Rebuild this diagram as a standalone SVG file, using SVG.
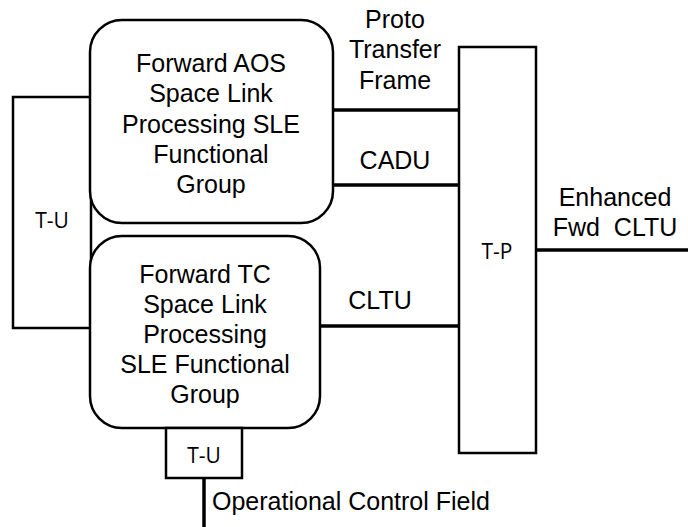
<svg xmlns="http://www.w3.org/2000/svg" width="688" height="527" viewBox="0 0 688 527">
  <style>
    .box { fill: #ffffff; stroke: #000000; stroke-width: 2.5; }
    .wire { fill: none; stroke: #000000; stroke-width: 3.5; }
    .lbl { font-family: "Liberation Sans", Arial, sans-serif; font-size: 25px; fill: #000000; text-anchor: middle; }
    .tag { font-family: "Open Sans", "Liberation Sans", sans-serif; font-size: 21px; fill: #000000; text-anchor: middle; }
  </style>
  <rect width="688" height="527" fill="#ffffff"/>

  <g id="connectors">
    <line class="wire" x1="333" y1="110" x2="459" y2="110"/>
    <line class="wire" x1="333" y1="185" x2="459" y2="185"/>
    <line class="wire" x1="320" y1="326" x2="459" y2="326"/>
    <line class="wire" x1="536" y1="250" x2="688" y2="250"/>
    <line class="wire" x1="204" y1="478" x2="204" y2="527"/>
  </g>

  <g id="tu-left">
    <rect class="box" x="13" y="97" width="78" height="231"/>
    <text class="tag" x="52" y="228">T-U</text>
  </g>

  <g id="aos-group">
    <rect class="box" x="90" y="20" width="243" height="203" rx="32" ry="32"/>
    <text class="lbl" x="211" y="72">Forward AOS</text>
    <text class="lbl" x="211" y="102">Space Link</text>
    <text class="lbl" x="211" y="133">Processing SLE</text>
    <text class="lbl" x="211" y="163">Functional</text>
    <text class="lbl" x="211" y="193">Group</text>
  </g>

  <g id="tc-group">
    <rect class="box" x="90" y="236" width="230" height="192" rx="32" ry="32"/>
    <text class="lbl" x="205" y="283">Forward TC</text>
    <text class="lbl" x="205" y="313">Space Link</text>
    <text class="lbl" x="205" y="343">Processing</text>
    <text class="lbl" x="205" y="373">SLE Functional</text>
    <text class="lbl" x="205" y="403">Group</text>
  </g>

  <g id="tu-bottom">
    <rect class="box" x="166" y="428" width="76" height="50"/>
    <text class="tag" x="204" y="463">T-U</text>
  </g>

  <g id="tp">
    <rect class="box" x="459" y="47" width="77" height="406"/>
    <text class="tag" x="497" y="259">T-P</text>
  </g>

  <g id="labels">
    <text class="lbl" x="395" y="28">Proto</text>
    <text class="lbl" x="395" y="58">Transfer</text>
    <text class="lbl" x="395" y="89">Frame</text>
    <text class="lbl" x="395" y="169">CADU</text>
    <text class="lbl" x="380" y="309">CLTU</text>
    <text class="lbl" x="615" y="206">Enhanced</text>
    <text class="lbl" x="615" y="236" xml:space="preserve">Fwd  CLTU</text>
    <text class="lbl" x="212" y="510" style="text-anchor:start">Operational Control Field</text>
  </g>
</svg>
